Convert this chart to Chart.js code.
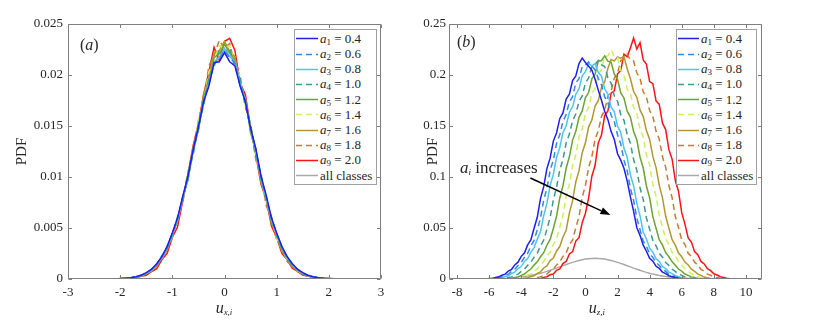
<!DOCTYPE html>
<html><head><meta charset="utf-8">
<script src="https://cdn.jsdelivr.net/npm/chart.js@4/dist/chart.umd.min.js"></script>
<style>
body{margin:0;width:830px;height:324px;background:#fff;position:relative;overflow:hidden;font-family:'Liberation Serif',serif;color:#262626}
.cw{position:absolute;top:0;width:415px;height:324px}
.legend{position:absolute;background:#fff;border:1px solid #a0a0a0;box-sizing:border-box;font-size:13px;z-index:3}
.row{position:absolute;left:0;height:15px;display:flex;align-items:center;white-space:nowrap}
.row svg{flex:none}
.row span{margin-left:1px}
sub{font-size:9px;vertical-align:-2px;line-height:0}
.lbl{position:absolute;z-index:3;white-space:nowrap;line-height:16px}
</style>
</head><body>
<div class="cw" style="left:0"><canvas id="c1" width="415" height="324"></canvas></div>
<div class="cw" style="left:415px"><canvas id="c2" width="415" height="324"></canvas></div>
<div class="legend" id="lg1" style="left:294px;top:29px;width:83px;height:156px"></div>
<div class="legend" id="lg2" style="left:676px;top:29px;width:81px;height:156px"></div>
<div class="lbl" style="left:80px;top:37px;font-size:16px">(<i>a</i>)</div>
<div class="lbl" style="left:457px;top:34px;font-size:16px">(<i>b</i>)</div>
<div class="lbl" style="left:224px;top:300px;font-size:16px;transform:translateX(-50%)"><i>u</i><sub><i>x,i</i></sub></div>
<div class="lbl" style="left:597px;top:300px;font-size:16px;transform:translateX(-50%)"><i>u</i><sub><i>z,i</i></sub></div>
<div class="lbl" style="left:460px;top:160px;font-size:17px"><i>a</i><sub><i>i</i></sub> increases</div>
<script>
// ---------------- data ----------------
const aValues = ['0.4','0.6','0.8','1.0','1.2','1.4','1.6','1.8','2.0'];
const allLabel = 'all classes';

const xLeft = [-2.4,-2.3,-2.2,-2.1,-2.0,-1.9,-1.8,-1.7,-1.6,-1.5,
 -1.4,-1.3,-1.2,-1.1,-1.0,-0.9,-0.8,-0.7,-0.6,-0.5,
 -0.4,-0.3,-0.2,-0.1,0,0.1,0.2,0.3,0.4,0.5,
 0.6,0.7,0.8,0.9,1.0,1.1,1.2,1.3,1.4,1.5,
 1.6,1.7,1.8,1.9,2.0,2.1,2.2,2.3,2.4,2.5,2.6];

const leftA1 = [0,0.00001,0.00002,0.00003,0.00004,0.00008,0.00012,0.00023,0.00036,0.00062,
 0.00095,0.0015,0.0022,0.0032,0.0045,0.006,0.0081,0.0101,0.0127,0.0149,
 0.0174,0.0189,0.0212,0.0213,0.0222,
 0.0213,0.0209,0.0189,0.0174,0.0148,0.0128,0.0101,0.0082,0.006,0.0045,
 0.0032,0.0022,0.0015,0.00096,0.00062,0.00037,0.00023,0.00013,0.00007,0.00004,
 0.00002,0.00001,0.00001,0,0,0];
const leftA2 = [0,0.00001,0.00002,0.00002,0.00004,0.00006,0.00012,0.0002,0.00037,0.00058,
 0.00096,0.0014,0.0023,0.003,0.0045,0.0059,0.008,0.0099,0.0126,0.0147,
 0.0175,0.0191,0.0211,0.0216,0.0224,
 0.0217,0.0212,0.019,0.0174,0.0147,0.0127,0.0099,0.0081,0.0059,0.0045,
 0.003,0.0022,0.0014,0.00093,0.00055,0.00035,0.00019,0.00013,0.00006,0.00004,
 0.00002,0.00001,0.00001,0,0,0];
const leftA3 = [0,0.00001,0.00001,0.00003,0.00003,0.00007,0.0001,0.00022,0.00032,0.0006,
 0.00087,0.00145,0.0021,0.0031,0.0044,0.0058,0.0079,0.0098,0.0126,0.0147,
 0.0175,0.0191,0.0212,0.0217,0.0226,
 0.0218,0.0213,0.0191,0.0175,0.0147,0.0126,0.0098,0.008,0.0058,0.0044,
 0.0031,0.0021,0.0014,0.00091,0.00056,0.00035,0.0002,0.00012,0.00006,0.00003,
 0.00002,0.00001,0.00001,0,0,0];
const leftA4 = [0,0.00001,0.00001,0.00002,0.00004,0.00006,0.0001,0.00021,0.00031,0.00058,
 0.00085,0.00143,0.002,0.0031,0.0042,0.006,0.0076,0.0103,0.0122,0.0151,
 0.017,0.0198,0.0208,0.0225,0.0223,
 0.0226,0.0207,0.0197,0.0169,0.0152,0.0121,0.0103,0.0076,0.0061,0.0042,
 0.0031,0.002,0.0014,0.00085,0.00057,0.00031,0.0002,0.0001,0.00006,0.00003,
 0.00002,0.00001,0.00001,0,0,0];
const leftA5 = [0,0,0.00001,0.00002,0.00003,0.00005,0.00012,0.00018,0.00035,0.00053,
 0.00092,0.00134,0.0022,0.0029,0.0045,0.0057,0.0081,0.0097,0.0128,0.0146,
 0.0178,0.0192,0.0217,0.0221,0.023,
 0.0222,0.0215,0.0191,0.0176,0.0145,0.0127,0.0097,0.008,0.0056,0.0044,
 0.0029,0.0021,0.0013,0.0009,0.00051,0.00034,0.00017,0.00012,0.00005,0.00004,
 0.00002,0.00001,0,0,0,0];
const leftA6 = [0,0.00001,0.00001,0.00002,0.00002,0.00006,0.00009,0.0002,0.0003,0.00056,
 0.00083,0.0014,0.002,0.0031,0.0042,0.0061,0.0077,0.0104,0.0123,0.0155,
 0.0172,0.0203,0.0213,0.0229,0.0226,
 0.0229,0.0209,0.0199,0.0169,0.0152,0.012,0.0102,0.0075,0.006,0.004,
 0.003,0.0019,0.0014,0.0008,0.00055,0.00029,0.0002,0.00009,0.00006,0.00002,
 0.00002,0.00001,0,0,0,0];
const leftA7 = [0,0,0.00001,0.00001,0.00004,0.00004,0.00012,0.00016,0.00034,0.0005,
 0.0009,0.0012,0.0022,0.0028,0.0044,0.0056,0.0081,0.0098,0.013,0.0147,
 0.0181,0.0197,0.0222,0.0224,0.0233,
 0.0223,0.0218,0.019,0.0177,0.0143,0.0126,0.0095,0.0079,0.0055,0.0043,
 0.0027,0.002,0.0012,0.00088,0.00046,0.00033,0.00015,0.0001,0.00004,0.00003,
 0.00001,0.00001,0,0,0,0];
const leftA8 = [0,0,0.00001,0.00002,0.00002,0.00006,0.00009,0.00019,0.00028,0.00055,
 0.00078,0.0014,0.0019,0.0031,0.0041,0.0061,0.0076,0.0105,0.0124,0.0156,
 0.0174,0.0209,0.0219,0.0234,0.0226,
 0.0231,0.0209,0.0199,0.0169,0.015,0.0117,0.0101,0.0072,0.0059,0.0038,
 0.003,0.0017,0.0013,0.0007,0.00052,0.00025,0.00018,0.00007,0.00005,0.00001,
 0.00001,0,0,0,0,0];
const leftA9 = [0,0,0.00001,0.00001,0.00002,0.00004,0.00009,0.00011,0.00026,0.00036,
 0.00072,0.00102,0.0019,0.0025,0.0041,0.0051,0.0077,0.0103,0.0131,0.0152,
 0.0181,0.0203,0.0227,0.0214,0.0233,
 0.0236,0.0224,0.0192,0.0181,0.0148,0.0122,0.0093,0.0078,0.0052,0.0041,
 0.0025,0.0019,0.00105,0.00075,0.00038,0.00028,0.00012,0.0001,0.00003,0.00003,
 0.00001,0.00001,0,0,0,0];
const leftAll = [0,0.00001,0.00001,0.00002,0.00003,0.00006,0.00011,0.00019,0.00033,0.00055,
 0.00088,0.00138,0.00208,0.00304,0.00431,0.0059,0.00781,0.01001,0.01241,0.01488,
 0.01727,0.01939,0.02106,0.02213,0.0225,
 0.02213,0.02106,0.01939,0.01727,0.01488,0.01241,0.01001,0.00781,0.0059,0.00431,
 0.00304,0.00208,0.00138,0.00088,0.00055,0.00033,0.00019,0.00011,0.00006,0.00003,
 0.00002,0.00001,0.00001,0,0,0];

const xRight = [-8,-7.8,-7.6,-7.4,-7.2,-7,-6.8,-6.6,-6.4,-6.2,
 -6,-5.8,-5.6,-5.4,-5.2,-5,-4.8,-4.6,-4.4,-4.2,
 -4,-3.8,-3.6,-3.4,-3.2,-3,-2.8,-2.6,-2.4,-2.2,
 -2,-1.8,-1.6,-1.4,-1.2,-1,-0.8,-0.6,-0.4,-0.2,
 0,0.2,0.4,0.6,0.8,1,1.2,1.4,1.6,1.8,
 2,2.2,2.4,2.6,2.8,3,3.2,3.4,3.6,3.8,
 4,4.2,4.4,4.6,4.8,5,5.2,5.4,5.6,5.8,
 6,6.2,6.4,6.6,6.8,7,7.2,7.4,7.6,7.8,
 8,8.2,8.4,8.6,8.8,9,9.2,9.4,9.6,9.8,10];

const rightA1 = [0,0,0,0,0,0,0,0,0,0.0001,
 0.0004,0.0006,0.0015,0.0021,0.0037,0.0048,0.0078,0.0095,0.0138,0.0165,
 0.0222,0.0255,0.0334,0.0382,0.0497,0.0605,0.0788,0.0905,0.1082,0.1185,
 0.1352,0.1432,0.1572,0.1628,0.1765,0.1812,0.1945,0.1992,0.2112,0.2165,
 0.2122,0.2085,0.2048,0.1958,0.1852,0.1752,0.1642,0.1562,0.1445,0.1368,
 0.1228,0.1165,0.1085,0.0962,0.0805,0.0665,0.0505,0.0428,0.0332,0.0272,
 0.0202,0.0175,0.0125,0.0104,0.0068,0.0052,0.0032,0.0023,0.0012,0.0008,
 0.0003,0.0001,0,0,0,0,0,0,0,0,
 0,0,0,0,0,0,0,0,0,0,0];
const rightA2 = [0,0,0,0,0,0,0,0,0,0,
 0.0001,0.0004,0.0006,0.0014,0.0020,0.0036,0.0047,0.0074,0.0096,0.0132,
 0.0164,0.0212,0.0251,0.0322,0.0379,0.0482,0.0598,0.0772,0.0892,0.1062,
 0.1168,0.1328,0.1415,0.1545,0.1612,0.1738,0.1788,0.1922,0.1965,0.2082,
 0.2095,0.2128,0.2085,0.2052,0.1965,0.1902,0.1785,0.1728,0.1605,0.1542,
 0.1412,0.1325,0.1165,0.1062,0.0888,0.0772,0.0598,0.0485,0.0372,0.0322,
 0.0248,0.0212,0.0162,0.0132,0.0095,0.0074,0.0046,0.0036,0.0020,0.0014,
 0.0006,0.0003,0,0,0,0,0,0,0,0,
 0,0,0,0,0,0,0,0,0,0,0];
const rightA3 = [0,0,0,0,0,0,0,0,0,0,
 0,0.0001,0.0003,0.0008,0.0012,0.0024,0.0031,0.0052,0.0068,0.0102,
 0.0122,0.0172,0.0201,0.0262,0.0308,0.0391,0.0462,0.0622,0.0741,0.0918,
 0.1025,0.1192,0.1288,0.1436,0.1502,0.1635,0.1688,0.1812,0.1865,0.1992,
 0.2032,0.2115,0.2088,0.2112,0.2025,0.1988,0.1862,0.1812,0.1685,0.1638,
 0.1498,0.1438,0.1285,0.1192,0.1022,0.0915,0.0742,0.0622,0.0458,0.0392,
 0.0302,0.0262,0.0198,0.0172,0.0122,0.0101,0.0068,0.0052,0.0031,0.0023,
 0.0012,0.0008,0.0003,0,0,0,0,0,0,0,
 0,0,0,0,0,0,0,0,0,0,0];
const rightA4 = [0,0,0,0,0,0,0,0,0,0,
 0,0,0,0,0.0003,0.0006,0.0014,0.0021,0.0036,0.0048,
 0.0074,0.0096,0.0134,0.0164,0.0214,0.0252,0.0325,0.0381,0.0488,0.0602,
 0.0775,0.0898,0.1068,0.1172,0.1335,0.1422,0.1552,0.1618,0.1742,0.1795,
 0.1922,0.1972,0.2085,0.2102,0.2142,0.2098,0.2082,0.1972,0.1918,0.1795,
 0.1742,0.1612,0.1555,0.1418,0.1332,0.1172,0.1065,0.0895,0.0778,0.0598,
 0.0488,0.0378,0.0325,0.0252,0.0214,0.0162,0.0132,0.0096,0.0074,0.0048,
 0.0036,0.0021,0.0014,0.0006,0.0003,0,0,0,0,0,
 0,0,0,0,0,0,0,0,0,0,0];
const rightA5 = [0,0,0,0,0,0,0,0,0,0,
 0,0,0,0,0,0,0.0003,0.0006,0.0014,0.0021,
 0.0036,0.0049,0.0076,0.0098,0.0136,0.0168,0.0218,0.0258,0.0331,0.0388,
 0.0495,0.0615,0.0792,0.0915,0.1088,0.1198,0.1362,0.1448,0.1585,0.1648,
 0.1778,0.1828,0.1962,0.2008,0.2135,0.2142,0.2188,0.2135,0.2125,0.2008,
 0.1958,0.1825,0.1775,0.1645,0.1588,0.1445,0.1365,0.1195,0.1088,0.0912,
 0.0795,0.0612,0.0498,0.0385,0.0332,0.0258,0.0218,0.0168,0.0135,0.0098,
 0.0076,0.0049,0.0036,0.0021,0.0014,0.0006,0.0003,0,0,0,
 0,0,0,0,0,0,0,0,0,0,0];
const rightA6 = [0,0,0,0,0,0,0,0,0,0,
 0,0,0,0,0,0,0,0,0.0003,0.0006,
 0.0015,0.0021,0.0038,0.0049,0.0078,0.0099,0.0139,0.0171,0.0224,0.0262,
 0.0338,0.0395,0.0506,0.0628,0.0812,0.0932,0.1115,0.1218,0.1395,0.1476,
 0.1625,0.1682,0.1822,0.1865,0.2005,0.2052,0.2182,0.2185,0.2248,0.2178,
 0.2175,0.2048,0.2002,0.1862,0.1818,0.1682,0.1625,0.1472,0.1395,0.1215,
 0.1118,0.0928,0.0815,0.0625,0.0508,0.0392,0.0338,0.0262,0.0222,0.0171,
 0.0138,0.0099,0.0078,0.0049,0.0038,0.0021,0.0015,0.0006,0.0003,0,
 0,0,0,0,0,0,0,0,0,0,0];
const rightA7 = [0,0,0,0,0,0,0,0,0,0,
 0,0,0,0,0,0,0,0,0,0,
 0.0003,0.0008,0.0012,0.0025,0.0032,0.0055,0.0069,0.0108,0.0128,0.0181,
 0.0206,0.0275,0.0318,0.0412,0.0478,0.0648,0.0768,0.0952,0.1062,0.1238,
 0.1335,0.1492,0.1558,0.1695,0.1748,0.1878,0.1932,0.2065,0.2152,0.2138,
 0.2178,0.2165,0.2182,0.2062,0.1965,0.1838,0.1782,0.1658,0.1592,0.1455,
 0.1368,0.1202,0.1092,0.0918,0.0795,0.0615,0.0498,0.0385,0.0332,0.0255,
 0.0218,0.0166,0.0138,0.0096,0.0076,0.0048,0.0036,0.0019,0.0013,0.0006,
 0.0003,0,0,0,0,0,0,0,0,0,0];
const rightA8 = [0,0,0,0,0,0,0,0,0,0,
 0,0,0,0,0,0,0,0,0,0,
 0,0,0,0.0003,0.0006,0.0014,0.0021,0.0037,0.0048,0.0078,
 0.0096,0.0138,0.0166,0.0222,0.0255,0.0338,0.0382,0.0502,0.0612,0.0802,
 0.0918,0.1095,0.1198,0.1372,0.1452,0.1595,0.1652,0.1795,0.1838,0.1972,
 0.2015,0.2142,0.2158,0.2205,0.2148,0.2138,0.2022,0.1968,0.1835,0.1785,
 0.1652,0.1595,0.1448,0.1372,0.1198,0.1095,0.0915,0.0798,0.0612,0.0502,
 0.0382,0.0338,0.0252,0.0222,0.0165,0.0138,0.0094,0.0076,0.0048,0.0037,
 0.0019,0.0014,0.0006,0.0003,0,0,0,0,0,0,0];
const rightA9 = [0,0,0,0,0,0,0,0,0,0,
 0,0,0,0,0,0,0,0,0,0,
 0,0,0,0,0,0.0003,0.0006,0.0016,0.0022,0.0041,
 0.0049,0.0085,0.0098,0.0152,0.0172,0.0245,0.0268,0.0372,0.0405,0.0552,
 0.0645,0.0795,0.1008,0.1112,0.1335,0.1412,0.1602,0.1648,0.1822,0.1845,
 0.2012,0.2045,0.2205,0.2178,0.2265,0.2362,0.2255,0.2318,0.2148,0.2105,
 0.1935,0.1915,0.1745,0.1712,0.1528,0.1465,0.1268,0.1175,0.0965,0.0858,
 0.0648,0.0538,0.0402,0.0362,0.0268,0.0238,0.0172,0.0148,0.0102,0.0082,
 0.0051,0.0039,0.0022,0.0015,0.0007,0.0003,0,0,0,0,0];
const rightAll = [0,0,0,0,0,0,0,0,0.0001,0.0001,
 0.0002,0.0002,0.0003,0.0004,0.0005,0.0006,0.0008,0.001,0.0013,0.0016,
 0.0019,0.0024,0.0029,0.0034,0.0041,0.0048,0.0056,0.0065,0.0075,0.0085,
 0.0096,0.0107,0.0119,0.013,0.0142,0.0153,0.0163,0.0173,0.0182,0.0189,
 0.0195,0.0199,0.0202,0.0203,0.0202,0.0199,0.0195,0.0189,0.0182,0.0173,
 0.0163,0.0153,0.0142,0.013,0.0119,0.0107,0.0096,0.0085,0.0075,0.0065,
 0.0056,0.0048,0.0041,0.0034,0.0029,0.0024,0.0019,0.0016,0.0013,0.001,
 0.0008,0.0006,0.0005,0.0004,0.0003,0.0002,0.0002,0.0001,0.0001,0,
 0,0,0,0,0,0,0,0,0,0,0];

const xTicksLeft = [-3,-2,-1,0,1,2,3];
const xTickLabelsLeft = ['-3','-2','-1','0','1','2','3'];
const yTicksLeft = [0,0.005,0.01,0.015,0.02,0.025];
const yTickLabelsLeft = ['0','0.005','0.01','0.015','0.02','0.025'];
const xTicksRight = [-8,-6,-4,-2,0,2,4,6,8,10];
const xTickLabelsRight = ['-8','-6','-4','-2','0','2','4','6','8','10'];
const yTicksRight = [0,0.05,0.1,0.15,0.2,0.25];
const yTickLabelsRight = ['0','0.05','0.1','0.15','0.2','0.25'];

// annotation arrow (data coordinates of right panel)
const arrowFrom = [-3.43, 0.099];
const arrowTo = [1.56, 0.0627];

// ---------------- styles ----------------
const colors = ['#1e1ef0','#2f8ae2','#4ec5f1','#3c9a8f','#69a62d','#cdf25f','#b5962f','#cb7a2f','#ff1414','#a9a9a9'];
const dashed = [false,true,false,true,false,true,false,true,false,false];
const FONT = "'Liberation Serif', 'Times New Roman', serif";
const TXT = '#262626';

const boxPlugin = {
  id: 'boxTicks',
  afterDatasetsDraw(chart) {
    const {ctx, chartArea: a} = chart;
    const xs = chart.scales.x, ys = chart.scales.y;
    ctx.save();
    ctx.strokeStyle = '#7f7f7f'; ctx.lineWidth = 1;
    const L = Math.round(a.left) + 0.5, R = Math.round(a.right) - 0.5;
    const T = Math.round(a.top) + 0.5, B = Math.round(a.bottom) - 0.5;
    ctx.beginPath();
    ctx.rect(L, T, R - L, B - T);
    xs.ticks.forEach(t => {
      const p = Math.round(xs.getPixelForValue(t.value)) + 0.5;
      ctx.moveTo(p, B); ctx.lineTo(p, B - 3.5);
      ctx.moveTo(p, T); ctx.lineTo(p, T + 3.5);
    });
    ys.ticks.forEach(t => {
      const p = Math.round(ys.getPixelForValue(t.value)) + 0.5;
      ctx.moveTo(L, p); ctx.lineTo(L + 3.5, p);
      ctx.moveTo(R, p); ctx.lineTo(R - 3.5, p);
    });
    ctx.stroke();
    const ar = chart.options.plugins.boxTicks && chart.options.plugins.boxTicks.arrow;
    if (ar) {
      const x1 = xs.getPixelForValue(ar[0][0]), y1 = ys.getPixelForValue(ar[0][1]);
      const x2 = xs.getPixelForValue(ar[1][0]), y2 = ys.getPixelForValue(ar[1][1]);
      const ang = Math.atan2(y2 - y1, x2 - x1), hl = 10, hw = 3.6;
      const bx = x2 - hl * Math.cos(ang), by = y2 - hl * Math.sin(ang);
      ctx.strokeStyle = '#000'; ctx.fillStyle = '#000'; ctx.lineWidth = 1.5;
      ctx.beginPath(); ctx.moveTo(x1, y1); ctx.lineTo(bx, by); ctx.stroke();
      ctx.beginPath();
      ctx.moveTo(x2, y2);
      ctx.lineTo(bx + hw * Math.sin(ang), by - hw * Math.cos(ang));
      ctx.lineTo(bx - hw * Math.sin(ang), by + hw * Math.cos(ang));
      ctx.closePath(); ctx.fill();
    }
    ctx.restore();
  }
};

function makeDatasets(xs, series, labels) {
  return series.map((ys, i) => ({
    label: labels[i],
    data: xs.map((x, j) => ({x: x, y: ys[j]})),
    borderColor: colors[i],
    borderDash: dashed[i] ? [6, 4] : [],
    borderWidth: 1.5,
    pointRadius: 0,
    fill: false,
    tension: 0
  }));
}

function makeChart(id, cfg) {
  return new Chart(document.getElementById(id), {
    type: 'line',
    data: {datasets: cfg.datasets},
    options: {
      responsive: false, animation: false, devicePixelRatio: 1,
      layout: {padding: cfg.padding},
      plugins: {legend: {display: false}, tooltip: {enabled: false}, boxTicks: {arrow: cfg.arrow || null}},
      scales: {
        x: {
          type: 'linear', min: cfg.xmin, max: cfg.xmax,
          afterBuildTicks: s => { s.ticks = cfg.xTicks.map(v => ({value: v})); },
          afterFit: s => { s.height = 45; },
          ticks: {callback: (v, i) => cfg.xLabels[i], font: {family: FONT, size: 13}, color: TXT, padding: 6, maxRotation: 0, autoSkip: false},
          grid: {display: false, drawTicks: false},
          border: {display: false}
        },
        y: {
          type: 'linear', min: cfg.ymin, max: cfg.ymax,
          afterBuildTicks: s => { s.ticks = cfg.yTicks.map(v => ({value: v})); },
          afterFit: s => { s.width = cfg.yWidth; },
          ticks: {callback: (v, i) => cfg.yLabels[i], font: {family: FONT, size: 13}, color: TXT, padding: cfg.yPad, autoSkip: false},
          grid: {display: false, drawTicks: false},
          border: {display: false},
          title: {display: true, text: 'PDF', font: {family: FONT, size: 15}, color: TXT, padding: {top: 4, bottom: 4}}
        }
      }
    },
    plugins: [boxPlugin]
  });
}

const legendLabels = aValues.map((v, i) => 'a' + (i + 1) + ' = ' + v).concat([allLabel]);
const legendHtml = aValues.map((v, i) => '<i>a</i><sub>' + (i + 1) + '</sub> = ' + v).concat([allLabel]);

const chartL = makeChart('c1', {
  datasets: makeDatasets(xLeft, [leftA1,leftA2,leftA3,leftA4,leftA5,leftA6,leftA7,leftA8,leftA9,leftAll], legendLabels),
  padding: {left: 9, right: 34, top: 24, bottom: 0},
  xmin: -3, xmax: 3, ymin: 0, ymax: 0.025,
  xTicks: xTicksLeft, xLabels: xTickLabelsLeft, yTicks: yTicksLeft, yLabels: yTickLabelsLeft,
  yWidth: 59, yPad: 5
});
const chartR = makeChart('c2', {
  datasets: makeDatasets(xRight, [rightA1,rightA2,rightA3,rightA4,rightA5,rightA6,rightA7,rightA8,rightA9,rightAll], legendLabels),
  padding: {left: 5, right: 68, top: 24, bottom: 0},
  xmin: -8.5, xmax: 11, ymin: 0, ymax: 0.25,
  xTicks: xTicksRight, xLabels: xTickLabelsRight, yTicks: yTicksRight, yLabels: yTickLabelsRight,
  yWidth: 29, yPad: 3,
  arrow: [arrowFrom, arrowTo]
});

function buildLegend(elId, chart, lineW) {
  const el = document.getElementById(elId);
  chart.data.datasets.forEach((ds, i) => {
    const row = document.createElement('div');
    row.className = 'row';
    row.style.top = (1.3 + 15.2 * i) + 'px';
    const dash = ds.borderDash.length ? ' stroke-dasharray="' + ds.borderDash.join(',') + '"' : '';
    row.innerHTML = '<svg width="' + (lineW + 2) + '" height="15"><line x1="1" y1="7.5" x2="' + (lineW + 1) + '" y2="7.5" stroke="' + ds.borderColor + '" stroke-width="1.5"' + dash + '/></svg><span>' + legendHtml[i] + '</span>';
    el.appendChild(row);
  });
}
buildLegend('lg1', chartL, 22);
buildLegend('lg2', chartR, 21);
</script>
</body></html>
